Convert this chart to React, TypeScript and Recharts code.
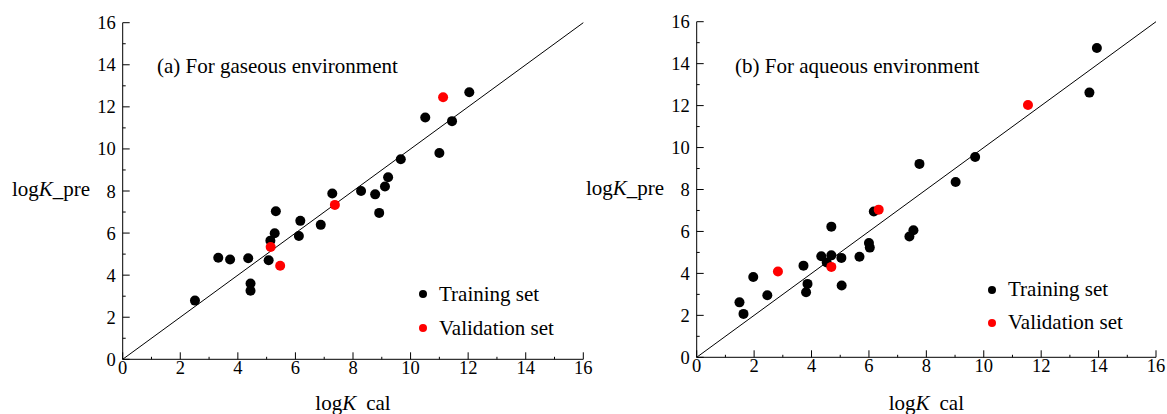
import { ScatterChart, Scatter, XAxis, YAxis, Legend } from 'recharts'

// tick values (labels only on even ones)
const TICKS = [0, 1, 2, 3, 4, 5, 6, 7, 8, 9, 10, 11, 12, 13, 14, 15, 16]
const DIAG = [0, 16]

// (a) gaseous environment
const GAS_TRAIN_X = [2.51, 3.32, 3.73, 4.36, 4.44, 4.44, 5.07, 5.13, 5.28, 5.32, 6.12, 6.17, 6.88, 7.28, 8.28, 8.77, 8.91, 9.11, 9.22, 9.66, 10.51, 11.0, 11.44, 12.04]
const GAS_TRAIN_Y = [2.79, 4.83, 4.74, 4.8, 3.6, 3.26, 4.71, 5.64, 5.99, 7.04, 5.86, 6.58, 6.39, 7.88, 8.0, 7.84, 6.96, 8.21, 8.65, 9.51, 11.49, 9.81, 11.32, 12.69]
const GAS_VAL_X = [5.14, 5.47, 7.37, 11.13]
const GAS_VAL_Y = [5.34, 4.45, 7.34, 12.46]

// (b) aqueous environment
const AQ_TRAIN_X = [1.49, 1.63, 1.97, 2.46, 3.72, 3.86, 3.81, 4.34, 4.53, 4.69, 4.69, 5.04, 5.05, 5.67, 6.0, 6.03, 6.17, 7.41, 7.55, 7.76, 9.02, 9.7, 13.68, 13.94]
const AQ_TRAIN_Y = [2.62, 2.07, 3.83, 2.96, 4.37, 3.5, 3.1, 4.82, 4.52, 4.86, 6.23, 4.74, 3.42, 4.79, 5.45, 5.23, 6.95, 5.76, 6.06, 9.22, 8.36, 9.55, 12.62, 14.75]
const AQ_VAL_X = [2.83, 4.69, 6.34, 11.54]
const AQ_VAL_Y = [4.09, 4.31, 7.04, 12.03]

const FONT = 'Liberation Serif, serif'
const txt = { fontFamily: FONT }

const pts = (xs: number[], ys: number[]) => xs.map((x, i) => ({ x, y: ys[i] }))

const dot = (fill: string) => (p: any) => <circle cx={p.cx} cy={p.cy} r={5} fill={fill} />

const BottomTick = ({ x, y, payload }: any) => {
  const major = payload.value % 2 === 0
  return (
    <g>
      <line x1={x} x2={x} y1={y} y2={y - (major ? 7 : 2.5)} stroke="#000" />
      {major && (
        <text x={x} y={y + 15} textAnchor="middle" fontSize={18.5} style={txt} fill="#000">
          {payload.value}
        </text>
      )}
    </g>
  )
}

const LeftTick = ({ x, y, payload }: any) => {
  const major = payload.value % 2 === 0
  return (
    <g>
      <line x1={x} x2={x + (major ? 7 : 3)} y1={y} y2={y} stroke="#000" />
      {major && (
        <text x={x - 7} y={y + 6.5} textAnchor="end" fontSize={18.5} style={txt} fill="#000">
          {payload.value}
        </text>
      )}
    </g>
  )
}

const LegendBox = ({ payload, rowH }: any) => (
  <div style={{ fontFamily: FONT, fontSize: 21, color: '#000' }}>
    {(payload || []).map((p: any) => (
      <div key={p.value} style={{ display: 'flex', alignItems: 'center', height: rowH, whiteSpace: 'nowrap' }}>
        <span style={{ width: 8, height: 8, borderRadius: '50%', background: p.color, marginRight: 12, display: 'inline-block' }} />
        <span style={txt}>{p.value}</span>
      </div>
    ))}
  </div>
)

interface PanelProps {
  left: number
  width: number
  yAxisW: number
  top: number
  right: number
  xAxisH: number
  train: { x: number; y: number }[]
  val: { x: number; y: number }[]
  title: string
  titleX: number
  legendLeft: number
  legendTop: number
  rowH: number
}

function Panel(props: PanelProps) {
  const { left, width, yAxisW, top, right, xAxisH, train, val, title, titleX, legendLeft, legendTop, rowH } = props
  return (
    <div style={{ position: 'absolute', left, top: 0, fontFamily: FONT }}>
      <ScatterChart width={width} height={414} margin={{ top, right, bottom: 0, left: 0 }} style={txt}>
        <XAxis
          xAxisId="b"
          type="number"
          dataKey="x"
          domain={[0, 16]}
          ticks={TICKS}
          interval={0}
          height={xAxisH}
          tickSize={0}
          tickMargin={0}
          tickLine={false}
          tick={<BottomTick />}
          axisLine={{ stroke: '#000' }}
          label={{
            content: (lp: any) => {
              const vb = lp.viewBox
              return (
                <text x={vb.x + vb.width / 2} y={410} textAnchor="middle" fontSize={21} style={txt} fill="#000">
                  log<tspan fontStyle="italic">K</tspan>
                  <tspan dx={10}>cal</tspan>
                </text>
              )
            },
          }}
        />
        <XAxis xAxisId="t" orientation="top" type="number" dataKey="x" domain={[0, 16]} ticks={TICKS} interval={0} height={0} tickSize={2} tick={false} tickLine={{ stroke: '#000' }} axisLine={{ stroke: '#000' }} />
        <YAxis
          yAxisId="l"
          type="number"
          dataKey="y"
          domain={[0, 16]}
          ticks={TICKS}
          interval={0}
          width={yAxisW}
          tickSize={0}
          tickMargin={0}
          tickLine={false}
          tick={<LeftTick />}
          axisLine={{ stroke: '#000' }}
          label={{
            content: (lp: any) => {
              const vb = lp.viewBox
              return (
                <text x={vb.x + vb.width - 32.5} y={vb.y + vb.height / 2 + 5} textAnchor="end" fontSize={21} style={txt} fill="#000">
                  log<tspan fontStyle="italic">K</tspan>_pre
                </text>
              )
            },
          }}
        />
        <YAxis yAxisId="r" orientation="right" type="number" dataKey="y" domain={[0, 16]} ticks={TICKS} interval={0} width={0} tickSize={2.5} tick={false} tickLine={{ stroke: '#000' }} axisLine={{ stroke: '#000' }} />
        <Scatter
          xAxisId="t"
          yAxisId="r"
          data={pts(DIAG, DIAG)}
          line={{ stroke: '#000', strokeWidth: 1 }}
          shape={() => <g />}
          legendType="none"
          isAnimationActive={false}
        />
        <Scatter xAxisId="b" yAxisId="l" name="Training set" data={train} fill="#000" shape={dot('#000')} isAnimationActive={false} />
        <Scatter xAxisId="b" yAxisId="l" name="Validation set" data={val} fill="#ff0000" shape={dot('#ff0000')} isAnimationActive={false} />
        <Legend
          layout="vertical"
          align="center"
          verticalAlign="middle"
          wrapperStyle={{ left: legendLeft, top: legendTop, width: 'auto' }}
          content={(lp: any) => <LegendBox payload={lp.payload} rowH={rowH} />}
        />
        <text x={titleX} y={73} fontSize={21} style={txt} fill="#000">
          {title}
        </text>
      </ScatterChart>
    </div>
  )
}

export default function App() {
  return (
    <div style={{ position: 'absolute', left: 0, top: 0, width: 1167, height: 414, background: '#fff' }}>
      <Panel
        left={0}
        width={600}
        yAxisW={122.7}
        top={22.7}
        right={16.7}
        xAxisH={54.7}
        train={pts(GAS_TRAIN_X, GAS_TRAIN_Y)}
        val={pts(GAS_VAL_X, GAS_VAL_Y)}
        title="(a) For gaseous environment"
        titleX={157}
        legendLeft={419}
        legendTop={277}
        rowH={34}
      />
      <Panel
        left={580}
        width={587}
        yAxisW={116.7}
        top={21.7}
        right={11}
        xAxisH={56.7}
        train={pts(AQ_TRAIN_X, AQ_TRAIN_Y)}
        val={pts(AQ_VAL_X, AQ_VAL_Y)}
        title="(b) For aqueous environment"
        titleX={155}
        legendLeft={408}
        legendTop={273}
        rowH={33.3}
      />
    </div>
  )
}
